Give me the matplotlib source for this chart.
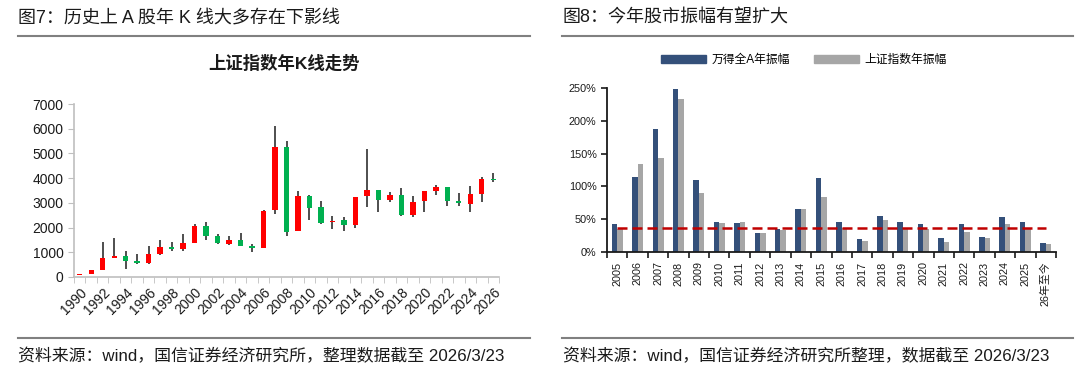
import matplotlib
matplotlib.use("Agg")
import matplotlib.pyplot as plt
from matplotlib.patches import Patch
import numpy as np

plt.rcParams["font.family"] = ["Liberation Sans", "Noto Sans CJK SC", "DejaVu Sans"]

# ---- left chart: Shanghai Composite annual candles ----
k_years = list(range(1990, 2027))
k_open = [96, 128, 294, 784, 838, 638, 550, 914, 1201, 1145, 1369, 2077, 1643, 1347,
          1493, 1261, 1164, 2728, 5265, 1849, 3290, 2825, 2212, 2290, 2112, 3259,
          3537, 3105, 3314, 2498, 3066, 3475, 3649, 3088, 2973, 3348, 3968]
k_high = [128, 293, 1429, 1559, 1053, 926, 1259, 1510, 1423, 1756, 2126, 2245, 1749, 1650,
          1783, 1329, 2699, 6124, 5523, 3478, 3307, 3067, 2478, 2445, 3239, 5178,
          3539, 3450, 3587, 3288, 3475, 3732, 3652, 3419, 3674, 4034, 4197]
k_low = [96, 105, 293, 750, 326, 524, 513, 870, 1043, 1048, 1361, 1515, 1339, 1307,
         1259, 998, 1162, 2542, 1665, 1844, 2320, 2134, 1949, 1850, 1974, 2851,
         2638, 3017, 2449, 2441, 2647, 3313, 2864, 2882, 2635, 3040, 3850]
k_close = [128, 293, 780, 834, 648, 555, 917, 1194, 1147, 1367, 2073, 1646, 1358, 1497,
           1267, 1161, 2675, 5262, 1821, 3277, 2808, 2199, 2269, 2116, 3235, 3539,
           3104, 3307, 2494, 3050, 3473, 3640, 3089, 2975, 3352, 3969, 3930]

# ---- right chart: annual amplitude ----
amp_labels = [str(y) for y in range(2005, 2026)] + ["26年至今"]
amp_wind_a = [0.42, 1.15, 1.88, 2.49, 1.10, 0.46, 0.44, 0.29, 0.34, 0.65, 1.13,
              0.46, 0.20, 0.54, 0.45, 0.43, 0.21, 0.42, 0.23, 0.53, 0.45, 0.14]
amp_sh = [0.35, 1.34, 1.43, 2.33, 0.90, 0.44, 0.45, 0.28, 0.33, 0.65, 0.83,
          0.37, 0.16, 0.49, 0.36, 0.34, 0.15, 0.30, 0.21, 0.42, 0.37, 0.12]
amp_median = 0.355

RED = "#FF0000"
GREEN = "#00B050"
WICK = "#404040"
BLUE = "#34507A"
GRAY = "#A6A6A6"

W, H = 1080, 381
fig = plt.figure(figsize=(W / 100, H / 100), dpi=100)


def box(x0, y0, x1, y1):
    # pixel box (top-left origin) -> figure fraction rect
    return [x0 / W, 1 - y1 / H, (x1 - x0) / W, (y1 - y0) / H]


# headers, rules, footers
fig.text(18 / W, 1 - 18 / H, "图7：历史上 A 股年 K 线大多存在下影线", fontsize=13,
         color="#1a1a1a", va="center", ha="left")
fig.text(563 / W, 1 - 18 / H, "图8：今年股市振幅有望扩大", fontsize=13,
         color="#1a1a1a", va="center", ha="left")
for xa, xb in [(18, 530), (562, 1073)]:
    fig.add_artist(plt.Line2D([xa / W, xb / W], [1 - 36 / H] * 2, color="#808080", lw=1.5))
    fig.add_artist(plt.Line2D([xa / W, xb / W], [1 - 338 / H] * 2, color="#808080", lw=1.5))
fig.text(18 / W, 1 - 356 / H, "资料来源：wind，国信证券经济研究所，整理数据截至 2026/3/23",
         fontsize=12.2, color="#1a1a1a", va="center", ha="left")
fig.text(563 / W, 1 - 356 / H, "资料来源：wind，国信证券经济研究所整理，数据截至 2026/3/23",
         fontsize=12.2, color="#1a1a1a", va="center", ha="left")

# ---- left: candlesticks ----
ax1 = fig.add_axes(box(74, 104, 499, 277))
x = np.arange(len(k_years))
o = np.array(k_open, float)
c = np.array(k_close, float)
colors = [RED if cc >= oo else GREEN for oo, cc in zip(o, c)]
ax1.vlines(x, k_low, k_high, color=WICK, lw=1.3, zorder=2)
bottoms = np.minimum(o, c)
heights = np.maximum(np.abs(c - o), 35)
ax1.bar(x, heights, bottom=bottoms, width=0.47, color=colors, zorder=3)
ax1.set_xlim(-0.5, len(k_years) - 0.5)
ax1.set_ylim(0, 7000)
ax1.set_yticks(range(0, 7001, 1000))
ax1.tick_params(axis="y", labelsize=10, colors="#BFBFBF", labelcolor="#1a1a1a", length=4)
ax1.set_xticks(x[::2])
ax1.set_xticklabels([str(y) for y in k_years[::2]], rotation=45, ha="right",
                    rotation_mode="anchor", fontsize=10, color="#1a1a1a")
ax1.tick_params(axis="x", which="major", length=0, pad=6)
ax1.set_xticks(np.arange(-0.5, len(k_years)), minor=True)
ax1.tick_params(axis="x", which="minor", length=4, color="#BFBFBF")
for s in ["top", "right"]:
    ax1.spines[s].set_visible(False)
for s in ["left", "bottom"]:
    ax1.spines[s].set_color("#BFBFBF")
    ax1.spines[s].set_linewidth(1.2)
fig.text(284 / W, 1 - 63 / H, "上证指数年K线走势", fontsize=12.5, fontweight="bold",
         ha="center", va="center", color="#1a1a1a")

# ---- right: amplitude bars ----
ax2 = fig.add_axes(box(607, 88.3, 1056, 251.7))
xb = np.arange(len(amp_labels))
ax2.bar(xb - 0.135, amp_wind_a, width=0.27, color=BLUE, zorder=2)
ax2.bar(xb + 0.135, amp_sh, width=0.27, color=GRAY, zorder=2)
ax2.plot([xb[0], xb[-1]], [amp_median, amp_median], color="#C00000", lw=1.8,
         ls=(0, (4, 2)), zorder=3)
ax2.set_xlim(-0.5, len(amp_labels) - 0.5)
ax2.set_ylim(0, 2.5)
ax2.set_yticks(np.arange(0, 2.51, 0.5))
ax2.set_yticklabels([f"{int(v * 100)}%" for v in np.arange(0, 2.51, 0.5)])
ax2.tick_params(axis="y", labelsize=7.8, length=4, width=1.2, color="#1a1a1a",
                labelcolor="#1a1a1a")
ax2.set_xticks(xb)
ax2.set_xticklabels(amp_labels, rotation=90, fontsize=7.8, color="#1a1a1a")
ax2.tick_params(axis="x", which="major", length=0, pad=7)
ax2.set_xticks(np.arange(-0.5, len(amp_labels)), minor=True)
ax2.tick_params(axis="x", which="minor", length=4, width=1.2, color="#1a1a1a")
for s in ["top", "right"]:
    ax2.spines[s].set_visible(False)
for s in ["left", "bottom"]:
    ax2.spines[s].set_color("#1a1a1a")
    ax2.spines[s].set_linewidth(1.3)

handles = [Patch(color=BLUE, label="万得全A年振幅"), Patch(color=GRAY, label="上证指数年振幅")]
fig.legend(handles=handles, loc="center", bbox_to_anchor=(804 / W, 1 - 60 / H), ncol=2,
           frameon=False, fontsize=8.5, handlelength=3.8, handleheight=0.6,
           columnspacing=2.0, handletextpad=0.5)

fig.savefig("out.png", dpi=100)
